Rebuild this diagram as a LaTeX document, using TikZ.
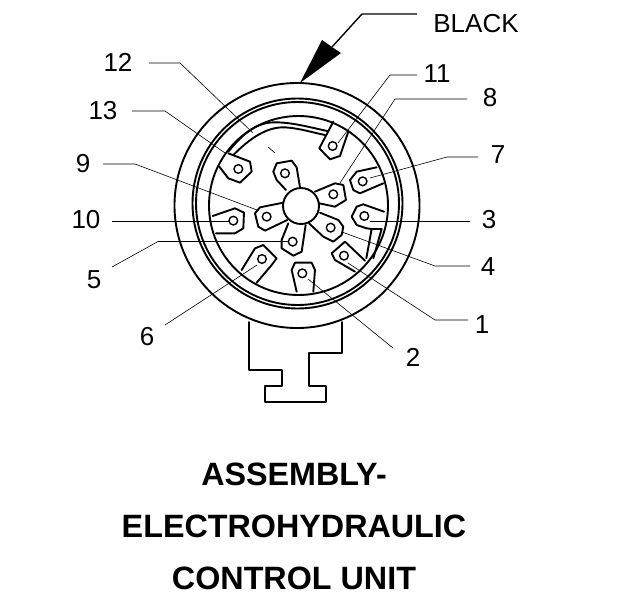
\documentclass[tikz,border=0pt]{standalone}
\usepackage{fontspec}
\setmainfont{Liberation Sans}
\tikzset{
  heavy/.style={line width=1.9pt,line join=round,line cap=round},
  ringline/.style={line width=1.9pt},
  leader/.style={line width=0.6pt,line join=miter},
  hole/.style={line width=1.4pt,fill=white},
  lbl/.style={font=\fontsize{26}{26}\selectfont,inner sep=0pt},
  ttl/.style={font=\fontsize{32.3}{34}\selectfont\bfseries,inner sep=0pt},
  zone/.style={shift={(160pt,-70pt)},x=.3333pt,y=-.3333pt},
  ztwo/.style={shift={(160pt,-190pt)},x=.3333pt,y=-.3333pt}
}
\begin{document}
\begin{tikzpicture}[x=1pt,y=-1pt]
\useasboundingbox (0,0) rectangle (624,600);
\fill[white] (0,0) rectangle (624,600);
% labels
\node[lbl] (l12) at (118,62) {12};
\node[lbl] (l13) at (103,111) {13};
\node[lbl] (l9) at (83,164) {9};
\node[lbl] (l10) at (86,220) {10};
\node[lbl] (l5) at (94,280) {5};
\node[lbl] (l6) at (147,337) {6};
\node[lbl] (l2) at (413,357) {2};
\node[lbl] (l1) at (482,325) {1};
\node[lbl] (l4) at (488,267) {4};
\node[lbl] (l3) at (489,220) {3};
\node[lbl] (l7) at (498,155) {7};
\node[lbl] (l8) at (490,98) {8};
\node[lbl] (l11) at (437,74) {11};
\node[lbl] (lb) at (476,24) {BLACK};
\node[ttl] (t1) at (294,474) {ASSEMBLY-};
\node[ttl] (t2) at (294,526) {ELECTROHYDRAULIC};
\node[ttl] (t3) at (294,578) {CONTROL UNIT};
% connector block
\draw[heavy] (249,322) -- (249,370) -- (282,370) -- (282,386) -- (265,386) -- (265,402) -- (326,402) -- (326,386) -- (309,386) -- (309,353) -- (342,353) -- (342,322);
% rings
\draw[ringline,fill=white] (297,205.5) circle (122.5);
\draw[ringline] (297.5,203.5) circle (105);
\draw[ringline] (297.5,203.5) circle (101.5);
\draw[ringline] (298.5,205.5) circle (89.5);
% hub
\draw[heavy] (301,206) circle (18);
% leaders
\coordinate (e12) at (253,133);
\coordinate (e12b) at (268,147);
\coordinate (e12c) at (275,153);
\coordinate (b12) at (180,63);
\draw[leader] (149,63) -- (b12) -- (e12);
\draw[leader] (e12b) -- (e12c);
\draw[leader] (132,111) -- (165,111) -- (225,153);
\draw[leader] (103,164) -- (135,164) -- (257,210);
\draw[leader] (112,221) -- (229,221);
\draw[leader] (112,267) -- (158,241.5) -- (288,241.5);
\draw[leader] (165,325) -- (257,265);
\draw[leader] (308,279) -- (393,348);
\draw[leader] (348,263) -- (435,320) -- (468,320);
\draw[leader] (342,232) -- (435,266) -- (470,266);
\draw[leader] (370,221) -- (470,221);
\draw[leader] (370,178) -- (447,157) -- (478,157);
\draw[leader] (340,183) -- (395,99) -- (467,99);
\draw[leader] (338,143) -- (390,75) -- (417,75);
% black arrow
\draw[line width=1.4pt] (417,14) -- (362,14) -- (332,47);
\fill (300,83) -- (322,40) -- (332,47) -- (341,53) -- cycle;
% zoom-1 parts
\begin{scope}[zone]
\draw[heavy] (520,155) -- (478,235) -- (510,268) -- (540,258) -- (565,185);
\draw[heavy] (205,245) .. controls (250,190) and (290,155) .. (350,157) .. controls (400,158) and (450,172) .. (502,183);
\draw[heavy] (220,255) .. controls (270,205) and (320,170) .. (375,172) .. controls (420,175) and (460,188) .. (495,195);
\draw[heavy] (205,250) -- (270,275) -- (275,305) -- (240,338) -- (205,325) -- (178,290);
\draw[heavy] (378,360) -- (350,330) -- (340,305) -- (350,280) -- (395,272) -- (410,292) -- (420,352);
\draw[heavy] (465,365) -- (525,340) -- (550,345) -- (558,390) -- (525,410) -- (478,400);
\draw[heavy] (650,292) -- (590,305) -- (570,330) -- (580,360) -- (600,370) -- (670,340);
\draw[heavy] (370,398) -- (300,412) -- (285,430) -- (295,470) -- (315,482) -- (382,450);
\draw[heavy] (158,438) -- (225,415) -- (252,428) -- (250,475) -- (225,490) -- (168,490);
\foreach \p in {(518,228),(235,297),(375,310),(520,373),(608,334),(320,440),(220,452)}
  \draw[hole] \p circle (13);
\end{scope}
% zoom-2 parts
\begin{scope}[ztwo]
\draw[heavy] (672,65) -- (610,43) -- (590,50) -- (575,80) -- (590,105) -- (620,115) -- (635,117) -- (619,205);
\draw[heavy] (635,117) -- (665,117) -- (640,205);
\draw[heavy] (385,100) -- (365,150) -- (365,175) -- (400,197) -- (425,185) -- (437,105);
\draw[heavy] (480,68) -- (535,90) -- (550,110) -- (545,135) -- (520,155) -- (490,140) -- (447,100);
\draw[heavy] (615,212) -- (555,155) -- (515,190) -- (525,210) -- (585,245);
\draw[heavy] (410,305) -- (395,240) -- (405,218) -- (455,218) -- (465,240) -- (460,305);
\draw[heavy] (245,240) -- (285,175) -- (310,165) -- (350,205) -- (335,225) -- (290,278);
\foreach \p in {(613,78),(398,155),(512,113),(552,197),(427,250),(306,207)}
  \draw[hole] \p circle (13);
\end{scope}
\end{tikzpicture}
\end{document}
